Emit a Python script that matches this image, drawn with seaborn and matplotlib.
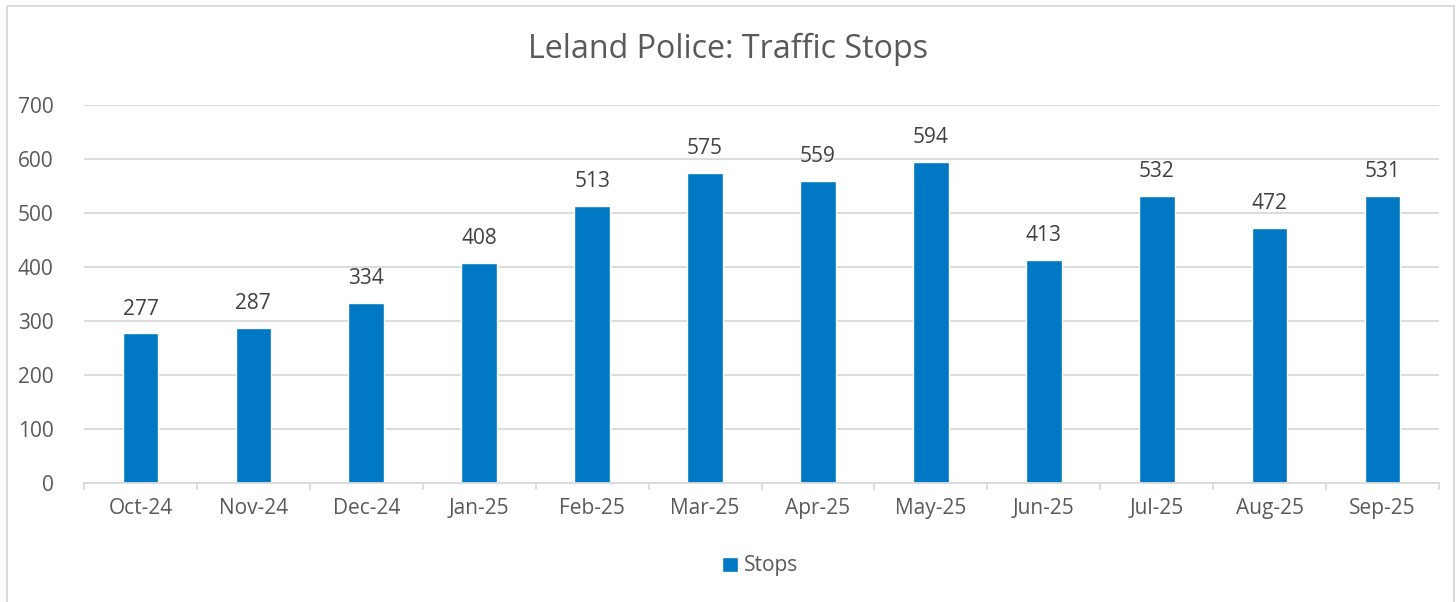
import matplotlib
matplotlib.use("Agg")
import matplotlib.pyplot as plt
import seaborn as sns
import pandas as pd
from matplotlib.patches import Rectangle

months = ["Oct-24", "Nov-24", "Dec-24", "Jan-25", "Feb-25", "Mar-25",
          "Apr-25", "May-25", "Jun-25", "Jul-25", "Aug-25", "Sep-25"]
stops = [277, 287, 334, 408, 513, 575, 559, 594, 413, 532, 472, 531]
series_name = "Stops"
title = "Leland Police: Traffic Stops"

sns.set_theme(style="white")
plt.rcParams['font.family'] = ['Open Sans', 'DejaVu Sans']

BLUE = "#0078C3"
TXT = "#595959"
GRID = "#D9D9D9"
FS = 15

df = pd.DataFrame({"Month": months, "Stops": stops})

fig = plt.figure(figsize=(14.56, 6.02), dpi=100)
ax = fig.add_axes([84/1456, 1-483/602, (1439-84)/1456, (483-105)/602])

sns.barplot(data=df, x="Month", y="Stops", color=BLUE, width=0.316,
            saturation=1, ax=ax, label=series_name)

ax.set_ylim(0, 700)
ax.set_xlim(-0.5, len(months)-0.5)
ax.set_yticks(range(0, 701, 100))
ax.yaxis.grid(True, color=GRID, linewidth=1.3)
ax.set_axisbelow(True)
for s in ["top", "right", "left"]:
    ax.spines[s].set_visible(False)
ax.spines["bottom"].set_color(GRID)
ax.spines["bottom"].set_linewidth(1.3)
ax.set_xlabel("")
ax.set_ylabel("")
ax.tick_params(axis="y", length=0, labelsize=FS, labelcolor=TXT, pad=22)
ax.tick_params(axis="x", length=0, labelsize=FS, labelcolor=TXT, pad=11)
# category boundary tick marks
for i in range(len(months)+1):
    ax.plot([i-0.5, i-0.5], [0, -12], color=GRID, lw=1.3, clip_on=False,
            transform=ax.transData)

for c in ax.containers:
    ax.bar_label(c, labels=[str(v) for v in stops], padding=10,
                 fontsize=FS, color="#404040")

fig.text(0.5, 1-49/602, title, ha="center", va="center",
         fontsize=23.2, color=TXT)

leg = ax.legend(loc="center", bbox_to_anchor=(760/1456, 1-566/602),
                bbox_transform=fig.transFigure, frameon=False,
                fontsize=FS, handlelength=0.75, handleheight=0.75,
                handletextpad=0.3)
for t in leg.get_texts():
    t.set_color(TXT)

fig.patches.append(Rectangle((7/1456, -0.01), (1454-7)/1456, 1.01-6/602+0.0,
                             transform=fig.transFigure, fill=False,
                             edgecolor=GRID, linewidth=1.3))

fig.savefig("out.png", dpi=100)
